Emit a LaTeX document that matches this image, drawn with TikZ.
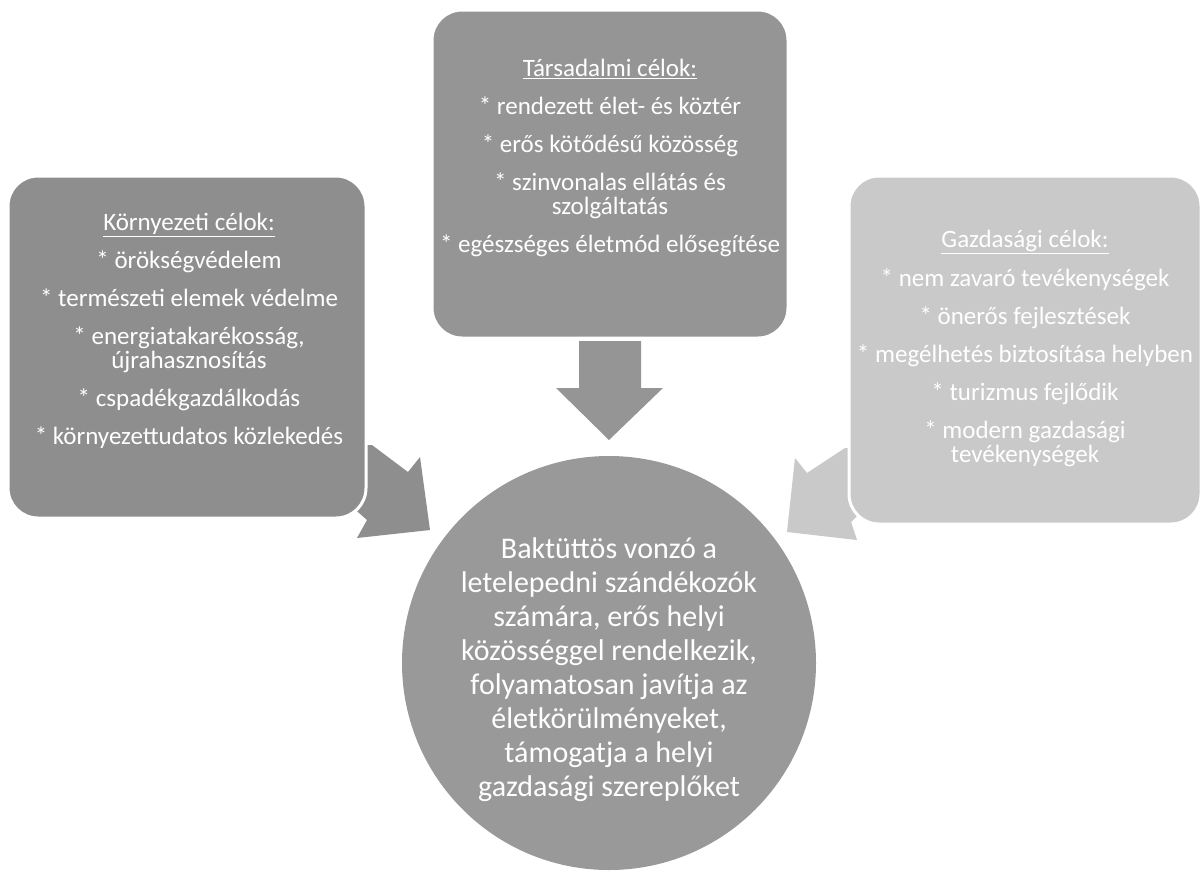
\documentclass[tikz,border=0pt]{standalone}
\usepackage{fontspec}
\setmainfont{Carlito}
\begin{document}
\begin{tikzpicture}[x=1pt,y=-1pt,
  goalbox/.style={draw=white, line width=3pt, rounded corners=30pt, inner sep=0pt},
  goaltext/.style={text=white, align=center, font=\fontsize{25}{24}\selectfont, inner sep=0pt}]
\definecolor{envgray}{HTML}{8E8E8E}
\definecolor{socgray}{HTML}{959595}
\definecolor{ecogray}{HTML}{C9C9C9}
\definecolor{circgray}{HTML}{999999}
\useasboundingbox (0,0) rectangle (1202,876);
\fill[white] (0,0) rectangle (1202,876);

% block arrows (drawn first, boxes overlap them)
\fill[envgray] (372,445) -- (408,472) -- (420,457) -- (430,530) -- (357,538) -- (367,520) -- (350,505) -- (350,445) -- cycle;
\fill[ecogray] (845,448) -- (807,473) -- (795,458) -- (787,532) -- (857,540) -- (851,522) -- (868,505) -- (868,448) -- cycle;

% boxes
\node[goalbox, fill=envgray, minimum width=358pt, minimum height=342pt] (env) at (187,347) {};
\node[goalbox, fill=socgray, minimum width=356pt, minimum height=328pt] (soc) at (610,174) {};
\node[goalbox, fill=ecogray, minimum width=352pt, minimum height=348pt] (eco) at (1025,350) {};

% down arrow from social box to circle
\fill[socgray] (579,341) -- (641,341) -- (641,388) -- (663,388) -- (609,440) -- (556,388) -- (579,388) -- cycle;

% central circle
\node[circle, fill=circgray, minimum size=414pt, inner sep=0pt] (goal) at (609,663) {};

% texts
\node[goaltext] (envt) at (189,331) {\underline{Környezeti célok:}\\[14pt]
* örökségvédelem\\[14pt]
* természeti elemek védelme\\[14pt]
* energiatakarékosság,\\ újrahasznosítás\\[14pt]
* cspadékgazdálkodás\\[14pt]
* környezettudatos közlekedés};

\node[goaltext] (soct) at (610,158) {\underline{Társadalmi célok:}\\[14pt]
* rendezett élet- és köztér\\[14pt]
* erős kötődésű közösség\\[14pt]
* szinvonalas ellátás és\\ szolgáltatás\\[14pt]
* egészséges életmód elősegítése};

\node[goaltext] (ecot) at (1025,348) {\underline{Gazdasági célok:}\\[14pt]
* nem zavaró tevékenységek\\[14pt]
* önerős fejlesztések\\[14pt]
* megélhetés biztosítása helyben\\[14pt]
* turizmus fejlődik\\[14pt]
* modern gazdasági\\ tevékenységek};

\node[text=white, align=center, inner sep=0pt, font=\fontsize{30}{34}\selectfont] (goalt) at (609,670) {Baktüttös vonzó a\\
letelepedni szándékozók\\
számára, erős helyi\\
közösséggel rendelkezik,\\
folyamatosan javítja az\\
életkörülményeket,\\
támogatja a helyi\\
gazdasági szereplőket};
\end{tikzpicture}
\end{document}
